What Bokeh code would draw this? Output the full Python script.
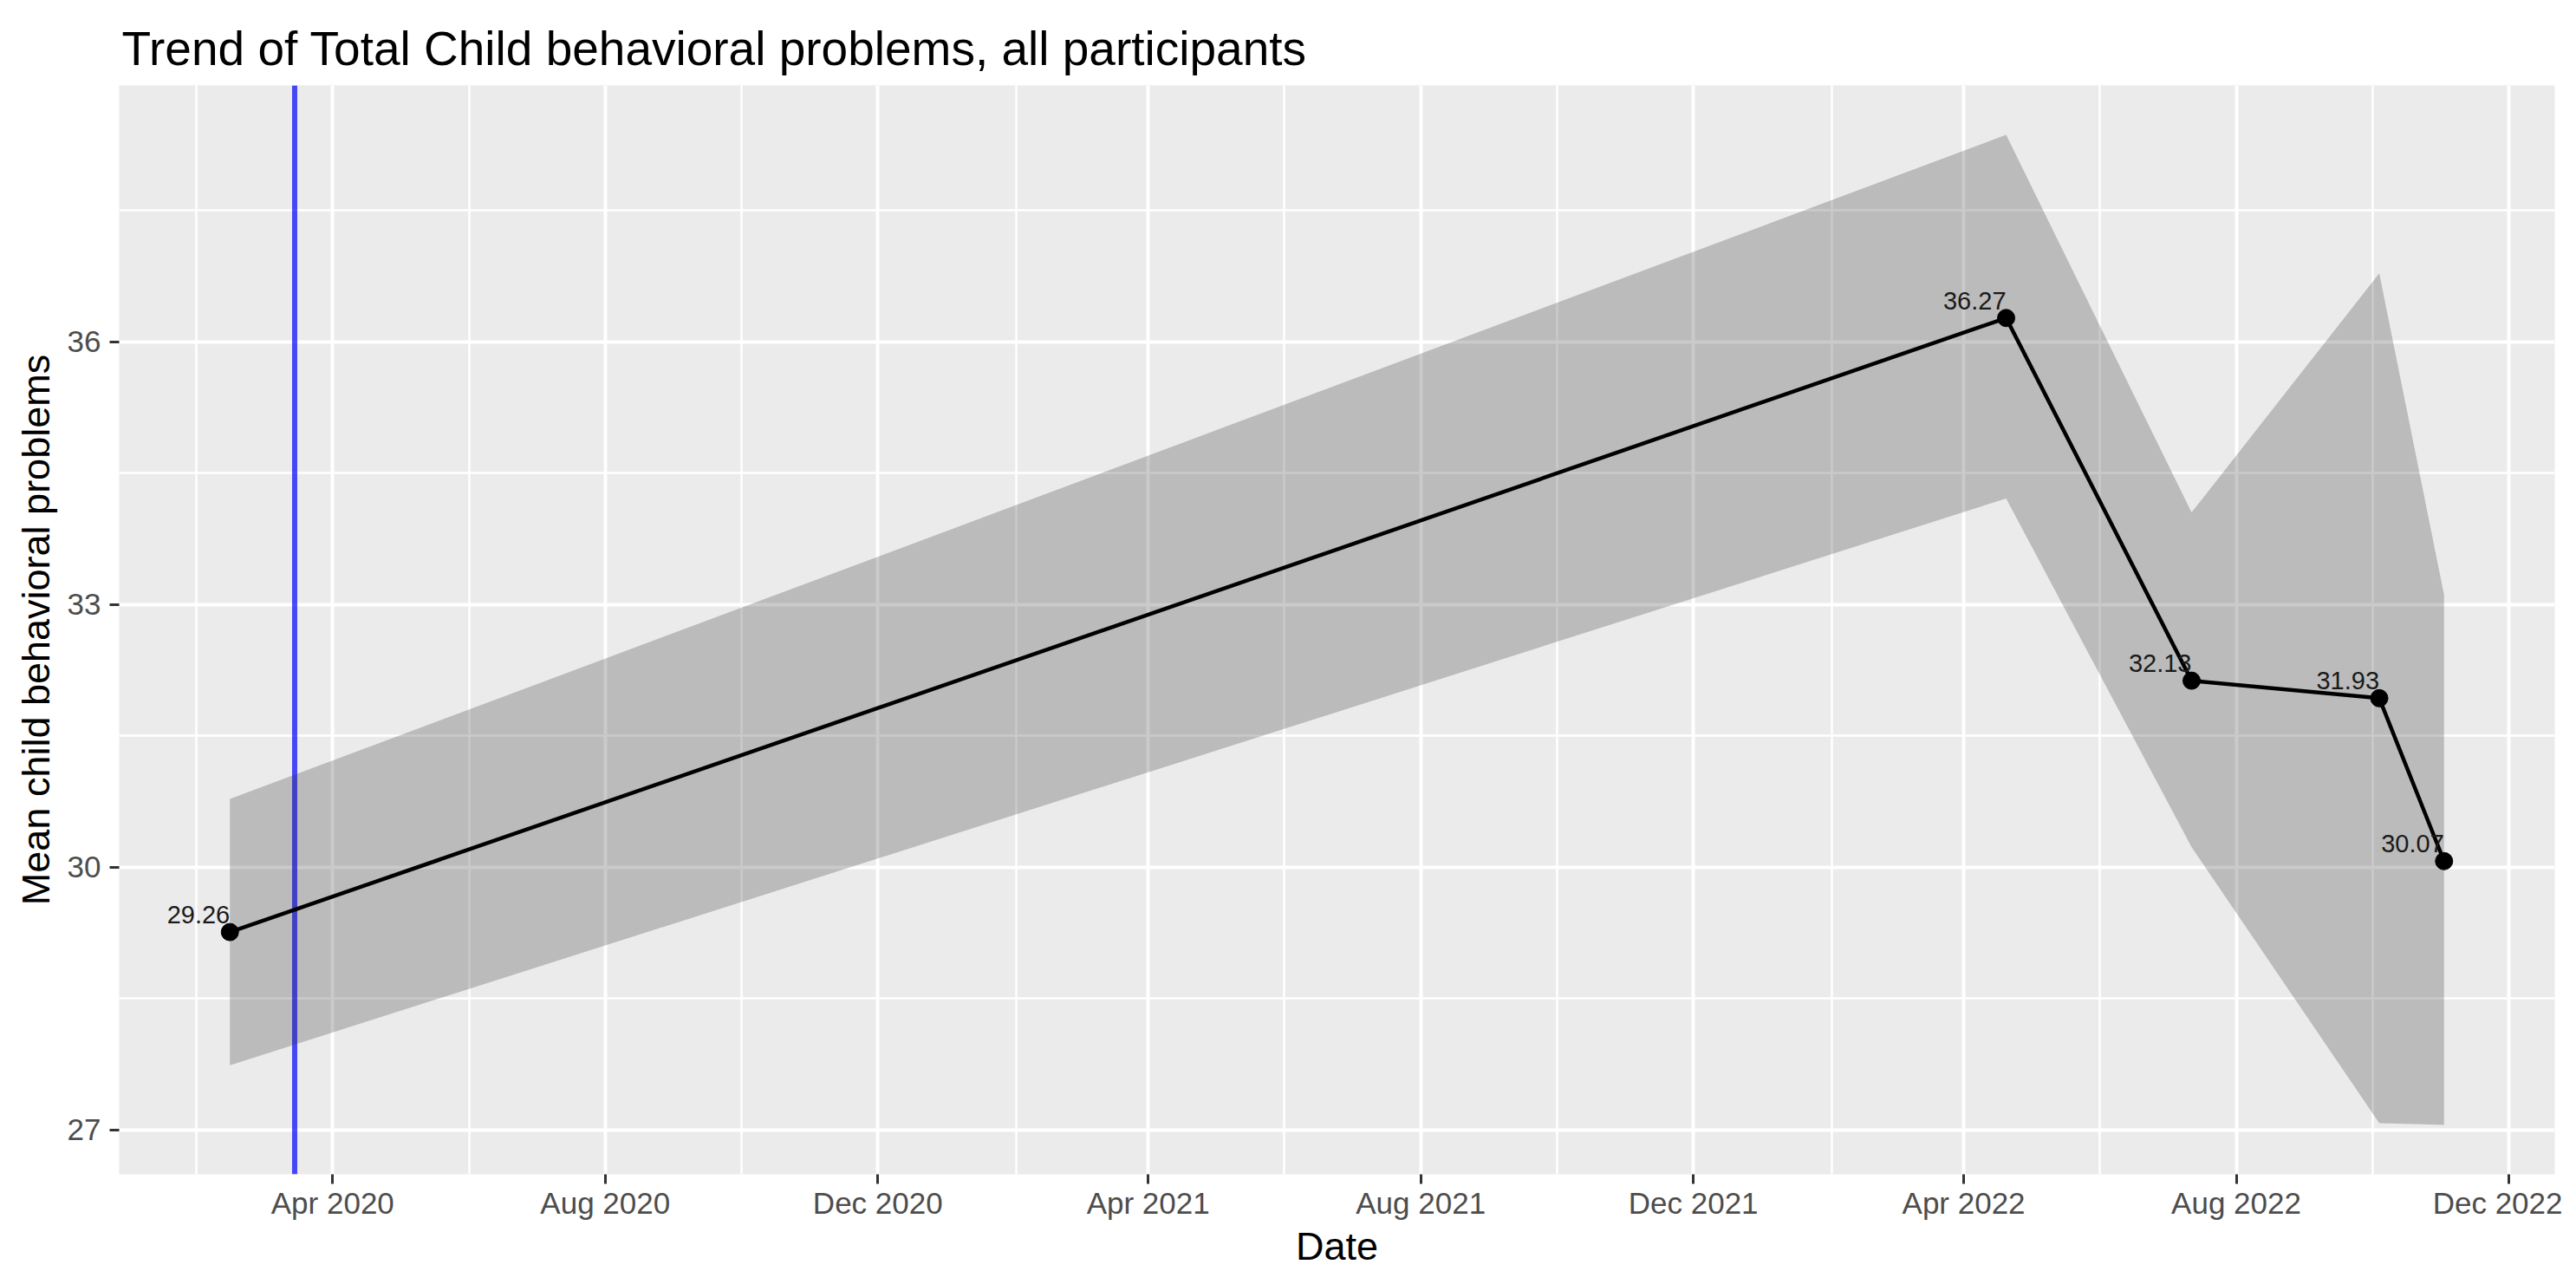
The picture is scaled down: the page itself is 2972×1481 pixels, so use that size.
import pandas as pd
from bokeh.plotting import figure
from bokeh.models import Range1d, FixedTicker, DatetimeTickFormatter, Span
from bokeh.core.properties import value
from bokeh.embed import file_html
from bokeh.resources import INLINE

# ---- data ----
dates = ["2020-02-15", "2022-04-20", "2022-07-12", "2022-10-04", "2022-11-02"]
means = [29.26, 36.27, 32.13, 31.93, 30.07]
lower = [27.74, 34.21, 30.23, 27.08, 27.06]
upper = [30.78, 38.36, 34.05, 36.78, 33.11]
event_date = "2020-03-15"

x_tick_dates = ["2020-04-01", "2020-08-01", "2020-12-01", "2021-04-01",
                "2021-08-01", "2021-12-01", "2022-04-01", "2022-08-01", "2022-12-01"]
x_minor_dates = ["2020-01-31", "2020-06-01", "2020-10-01", "2021-02-01",
                 "2021-06-01", "2021-10-01", "2022-02-01", "2022-06-01", "2022-10-01"]
y_ticks = [27, 30, 33, 36]
y_minor = [28.5, 31.5, 34.5, 37.5]

title_text = "Trend of Total Child behavioral problems, all participants"
x_title = "Date"
y_title = "Mean child behavioral problems"

FONT = "Liberation Sans"

x = pd.to_datetime(dates)
labels = ["%.2f" % v for v in means]

def ms(d):
    return pd.Timestamp(d).timestamp() * 1000.0

# ggplot-like 5% expansion
xmin, xmax = ms(dates[0]), ms(dates[-1])
xpad = (xmax - xmin) * 0.05
ymin, ymax = min(lower), max(upper)
ypad = (ymax - ymin) * 0.05

p = figure(width=2956, height=1465, x_axis_type="datetime",
           x_range=Range1d(xmin - xpad, xmax + xpad),
           y_range=Range1d(ymin - ypad, ymax + ypad),
           output_backend="svg", toolbar_location=None, title=title_text)

p.min_border_left = 137
p.min_border_right = 9
p.min_border_top = 98
p.min_border_bottom = 108

p.background_fill_color = "#EBEBEB"
p.border_fill_color = "white"
p.outline_line_color = None

# title
p.title.text_font = FONT
p.title.text_font_size = "55px"
p.title.text_font_style = "normal"
p.title.text_color = "black"
p.title.align = "left"
p.title.offset = 3
p.title.standoff = 24

# tickers
xt = FixedTicker(ticks=[ms(d) for d in x_tick_dates],
                 minor_ticks=[ms(d) for d in x_minor_dates])
yt = FixedTicker(ticks=y_ticks, minor_ticks=y_minor)
p.xaxis.ticker = xt
p.xgrid.ticker = xt
p.yaxis.ticker = yt
p.ygrid.ticker = yt

fmt = "%b %Y"
p.xaxis.formatter = DatetimeTickFormatter(
    microseconds=fmt, milliseconds=fmt, seconds=fmt, minsec=fmt, minutes=fmt,
    hourmin=fmt, hours=fmt, days=fmt, months=fmt, years=fmt)

for ax in (p.xaxis, p.yaxis):
    ax.axis_line_color = None
    ax.major_tick_line_color = "#333333"
    ax.major_tick_line_width = 3
    ax.major_tick_out = 11
    ax.major_tick_in = 0
    ax.minor_tick_line_color = None
    ax.major_label_text_font = FONT
    ax.major_label_text_font_size = "35px"
    ax.major_label_text_color = "#4D4D4D"
    ax.axis_label_text_font = FONT
    ax.axis_label_text_font_size = "45px"
    ax.axis_label_text_font_style = "normal"
    ax.axis_label_text_color = "black"

p.xaxis.axis_label = x_title
p.yaxis.axis_label = y_title
p.xaxis.major_label_standoff = 2
p.yaxis.major_label_standoff = 10
p.xaxis.axis_label_standoff = 2
p.yaxis.axis_label_standoff = 8

for g in (p.xgrid, p.ygrid):
    g.grid_line_color = "white"
    g.grid_line_width = 4
    g.minor_grid_line_color = "white"
    g.minor_grid_line_width = 2.5

# event line (below ribbon)
vline = Span(location=ms(event_date), dimension="height", line_color="blue",
             line_alpha=0.7, line_width=6, level="underlay")
p.add_layout(vline)

# confidence ribbon
p.varea(x=x, y1=lower, y2=upper, fill_color="#333333", fill_alpha=0.26)

# mean line + points
p.line(x=x, y=means, line_color="black", line_width=4.5)
p.scatter(x=x, y=means, size=20, fill_color="black", line_color="black")

# value labels
p.text(x=x, y=means, text=labels, text_align="right", text_baseline="alphabetic",
       y_offset=-20, text_font=value(FONT), text_font_size="29px", text_color="#1A1A1A")

open("out.html", "w").write(file_html(p, INLINE))
